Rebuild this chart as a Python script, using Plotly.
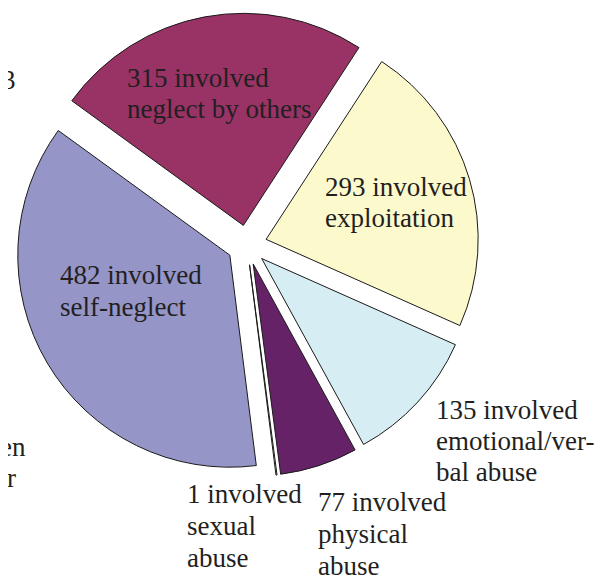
import plotly.graph_objects as go

labels = ["neglect by others", "exploitation", "emotional/verbal abuse",
          "physical abuse", "sexual abuse", "self-neglect"]
values = [315, 293, 135, 77, 1, 482]
colors = ["#993366", "#FCF9CD", "#D5EDF3", "#662266", "#FFFFFF", "#9595C8"]
label_lines = [
    ["315 involved", "neglect by others"],
    ["293 involved", "exploitation"],
    ["135 involved", "emotional/ver-", "bal abuse"],
    ["77 involved", "physical", "abuse"],
    ["1 involved", "sexual", "abuse"],
    ["482 involved", "self-neglect"],
]
# label anchor in window pixels: left x, first line centre y, line step
label_pos = [(127, 78, 31), (325, 187, 31), (436, 410, 31),
             (318, 502, 32), (187, 494, 32), (60, 275, 32)]
edge_texts = [("3", 18, 80), ("en", 28, 447), ("r", 18, 478)]

W, H = 603, 576
OFF = 8  # page body margin in the browser
FONT = "Liberation Serif, Times New Roman, serif"
TXT = "#231F20"
FS = 27

fig = go.Figure(go.Pie(
    labels=labels, values=values, sort=False, direction="clockwise",
    rotation=-54, pull=[0.094] * len(values),
    marker=dict(colors=colors, line=dict(color="#1a1a1a", width=1)),
    textinfo="none", hoverinfo="label+value", showlegend=False,
    domain=dict(x=[7 / W, 471 / W], y=[1 - 469 / H, 1 - 5 / H]),
))

annotations = []
for lines, (px, py, step) in zip(label_lines, label_pos):
    for k, t in enumerate(lines):
        annotations.append(dict(
            text=t, x=(px - OFF - 2) / W, y=1 - (py + k * step - OFF) / H,
            xref="paper", yref="paper",
            xanchor="left", yanchor="middle", align="left", showarrow=False,
            font=dict(family=FONT, size=FS, color=TXT)))
for t, px, py in edge_texts:
    annotations.append(dict(
        text=t, x=(px - OFF) / W, y=1 - (py - OFF) / H, xref="paper", yref="paper",
        xanchor="right", yanchor="middle", showarrow=False,
        font=dict(family=FONT, size=FS, color=TXT)))

fig.update_layout(
    width=W, height=H, margin=dict(l=0, r=0, t=0, b=0),
    paper_bgcolor="white", plot_bgcolor="white",
    annotations=annotations,
)
fig.write_html("out.html")
